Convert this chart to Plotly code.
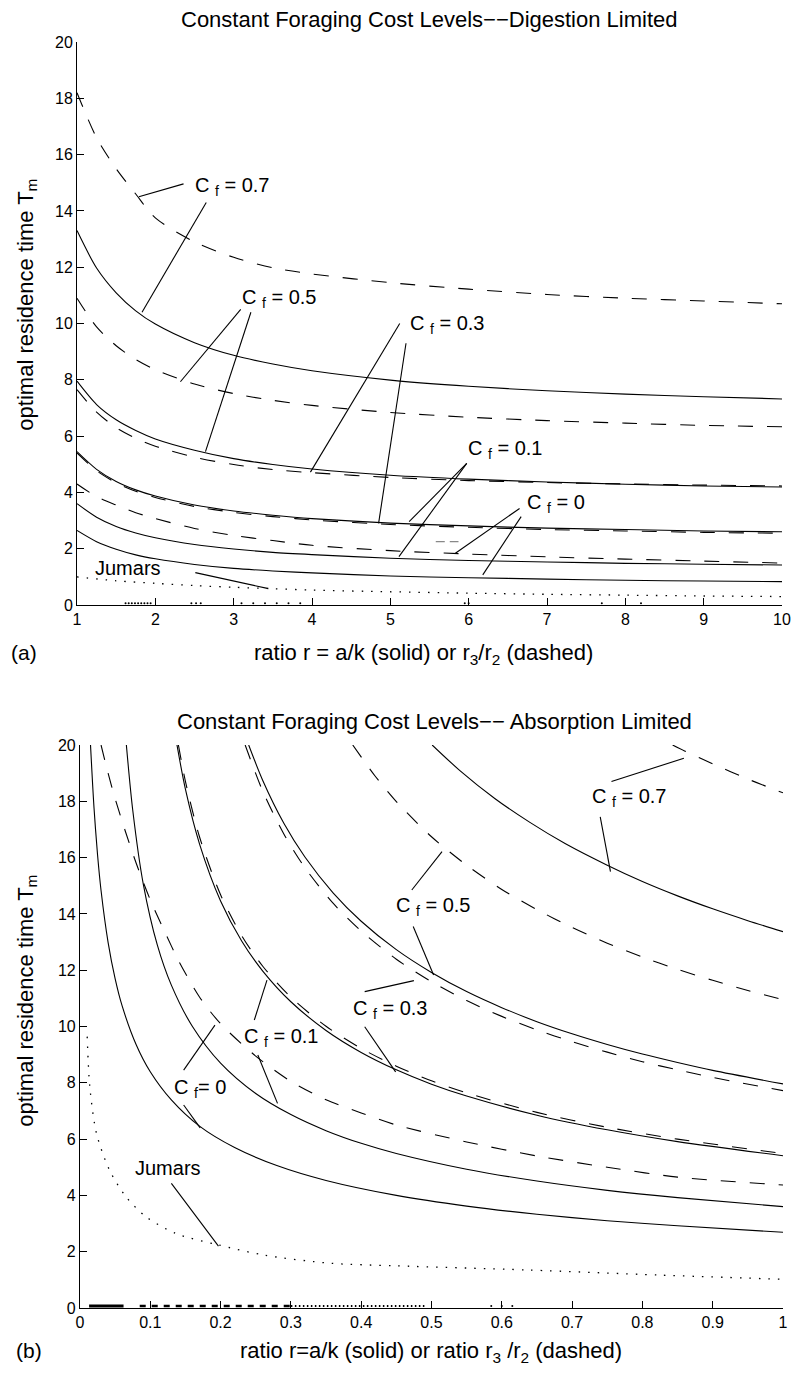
import plotly.graph_objects as go

FONT = "Liberation Sans, Arial, Helvetica, sans-serif"

# ---------------- Panel (a): Digestion limited ----------------
xa = [1, 1.25, 1.5, 1.75, 2, 2.5, 3, 3.5, 4, 5, 6, 7, 8, 9, 10]
a_solid_07 = [13.3, 11.97, 11.09, 10.45, 9.98, 9.32, 8.87, 8.56, 8.32, 7.99, 7.77, 7.61, 7.49, 7.40, 7.32]
a_solid_05 = [7.95, 7.12, 6.58, 6.2, 5.9, 5.5, 5.2, 4.99, 4.83, 4.61, 4.47, 4.37, 4.29, 4.23, 4.19]
a_solid_03 = [5.45, 4.82, 4.39, 4.09, 3.87, 3.55, 3.34, 3.19, 3.07, 2.91, 2.81, 2.73, 2.68, 2.63, 2.6]
a_solid_01 = [3.6, 3.12, 2.79, 2.56, 2.39, 2.15, 1.99, 1.87, 1.79, 1.66, 1.58, 1.53, 1.48, 1.45, 1.42]
a_solid_00 = [2.65, 2.25, 1.98, 1.78, 1.64, 1.44, 1.30, 1.21, 1.14, 1.03, 0.97, 0.92, 0.88, 0.85, 0.83]
a_dash_07 = [18.2, 16.6, 15.5, 14.6, 13.75, 12.9, 12.35, 11.98, 11.76, 11.45, 11.22, 11.03, 10.9, 10.8, 10.7]
a_dash_05 = [10.9, 9.88, 9.21, 8.72, 8.36, 7.85, 7.51, 7.27, 7.09, 6.84, 6.67, 6.55, 6.46, 6.38, 6.33]
a_dash_03 = [7.65, 6.85, 6.3, 5.92, 5.64, 5.25, 4.99, 4.81, 4.7, 4.53, 4.42, 4.35, 4.3, 4.26, 4.23]
a_dash_01 = [5.4, 4.77, 4.34, 4.04, 3.82, 3.5, 3.29, 3.14, 3.02, 2.86, 2.76, 2.68, 2.63, 2.58, 2.55]
a_dash_00 = [4.3, 3.85, 3.55, 3.28, 3.07, 2.72, 2.47, 2.29, 2.12, 1.93, 1.81, 1.71, 1.63, 1.56, 1.49]
xa_jumars = [1, 1.5, 2, 2.5, 3, 3.5, 4, 5, 6, 7, 8, 9, 10]
a_jumars = [1.0, 0.86, 0.77, 0.69, 0.63, 0.58, 0.53, 0.47, 0.42, 0.38, 0.35, 0.32, 0.3]
# stray marks lying on the x axis
a_axis_marks_x = [1.62, 1.66, 1.7, 1.74, 1.78, 1.82, 1.86, 1.9, 1.94, 2.46, 2.52, 2.58, 3.1, 3.25, 3.4, 3.55,
                  3.7, 3.85, 5.95, 6.0, 7.7, 8.2]

# ---------------- Panel (b): Absorption limited ----------------
xb_s00 = [0.015, 0.02, 0.025, 0.03, 0.04, 0.05, 0.06, 0.08, 0.1, 0.13, 0.17, 0.22, 0.28, 0.35, 0.45, 0.55, 0.65, 0.75, 0.85, 1.0]
b_solid_00 = [20, 17.76, 16.1, 14.83, 12.99, 11.7, 10.73, 9.35, 8.39, 7.39, 6.46, 5.7, 5.06, 4.53, 4.0, 3.62, 3.33, 3.1, 2.92, 2.69]
xb_s01 = [0.066, 0.075, 0.09, 0.11, 0.13, 0.16, 0.2, 0.25, 0.3, 0.35, 0.4, 0.45, 0.55, 0.65, 0.75, 0.85, 1.0]
b_solid_01 = [20, 17.7, 15.07, 12.9, 11.47, 10.0, 8.7, 7.62, 6.87, 6.3, 5.85, 5.49, 4.93, 4.51, 4.18, 3.92, 3.6]
xb_s03 = [0.138, 0.15, 0.17, 0.2, 0.23, 0.26, 0.3, 0.35, 0.4, 0.45, 0.5, 0.55, 0.65, 0.75, 0.85, 1.0]
b_solid_03 = [20, 18.43, 16.49, 14.46, 13.04, 11.97, 10.88, 9.86, 9.08, 8.46, 7.95, 7.53, 6.85, 6.33, 5.91, 5.41]
xb_s05 = [0.24, 0.26, 0.29, 0.32, 0.36, 0.4, 0.45, 0.5, 0.55, 0.6, 0.65, 0.7, 0.75, 0.8, 0.85, 0.9, 1.0]
b_solid_05 = [20, 18.74, 17.22, 16.02, 14.75, 13.74, 12.73, 11.92, 11.24, 10.67, 10.17, 9.74, 9.36, 9.02, 8.72, 8.44, 7.96]
xb_s07 = [0.501, 0.54, 0.59, 0.64, 0.69, 0.75, 0.8, 0.85, 0.9, 0.95, 1.0]
b_solid_07 = [20, 19.1, 18.1, 17.25, 16.5, 15.73, 15.15, 14.64, 14.18, 13.76, 13.37]
xb_d00 = [0.03, 0.04, 0.05, 0.065, 0.08, 0.1, 0.12, 0.14, 0.17, 0.2, 0.25, 0.3, 0.35, 0.4, 0.45, 0.55, 0.65, 0.75, 0.85, 1.0]
b_dash_00 = [20, 19.0, 18.1, 16.9, 15.8, 14.5, 13.4, 12.35, 11.05, 10.1, 8.95, 8.05, 7.4, 6.93, 6.5, 5.9, 5.4, 5.0, 4.65, 4.37]
xb_d01 = [0.14, 0.15, 0.17, 0.2, 0.23, 0.26, 0.3, 0.35, 0.4, 0.45, 0.5, 0.55, 0.65, 0.75, 0.85, 1.0]
b_dash_01 = [20, 18.71, 16.74, 14.68, 13.23, 12.14, 11.04, 10.01, 9.22, 8.59, 8.07, 7.64, 6.95, 6.42, 6.0, 5.49]
xb_d03 = [0.235, 0.26, 0.29, 0.32, 0.36, 0.4, 0.45, 0.5, 0.55, 0.6, 0.65, 0.7, 0.75, 0.8, 0.85, 0.9, 1.0]
b_dash_03 = [20, 18.36, 16.84, 15.64, 14.38, 13.39, 12.39, 11.59, 10.92, 10.36, 9.88, 9.46, 9.09, 8.75, 8.46, 8.19, 7.72]
xb_d05 = [0.388, 0.42, 0.45, 0.5, 0.55, 0.6, 0.65, 0.7, 0.75, 0.8, 0.85, 0.9, 0.95, 1.0]
b_dash_05 = [20, 18.89, 17.99, 16.74, 15.73, 14.87, 14.15, 13.52, 12.96, 12.47, 12.03, 11.64, 11.28, 10.95]
xb_d07 = [0.843, 0.86, 0.9, 0.95, 1.0]
b_dash_07 = [20, 19.79, 19.33, 18.79, 18.3]
xb_jumars = [0.0103, 0.014, 0.0235, 0.042, 0.0655, 0.094, 0.136, 0.197, 0.262, 0.356, 0.449, 0.637, 0.824, 1.0]
b_jumars = [9.64, 7.86, 6.2, 4.9, 3.95, 3.24, 2.65, 2.24, 1.88, 1.59, 1.5, 1.35, 1.17, 1.02]
b_axis_solid_x = [0.013, 0.062]
b_axis_dash_x = [0.085, 0.30]
b_axis_dot_x = [0.30, 0.49]
b_axis_pts_x = [0.585, 0.60, 0.615]

xb_ticks = [0, 0.1, 0.2, 0.3, 0.4, 0.5, 0.6, 0.7, 0.8, 0.9, 1]
xb_ticktext = ["0", "0.1", "0.2", "0.3", "0.4", "0.5", "0.6", "0.7", "0.8", "0.9", "1"]
xa_ticks = [1, 2, 3, 4, 5, 6, 7, 8, 9, 10]
y_ticks = [0, 2, 4, 6, 8, 10, 12, 14, 16, 18, 20]

# labels: (panel, text, x, y)
labels = [
    ("a", "C <sub>f</sub> = 0.7", 2.99, 14.85),
    ("a", "C <sub>f</sub> = 0.5", 3.58, 10.9),
    ("a", "C <sub>f</sub> = 0.3", 5.73, 9.95),
    ("a", "C <sub>f</sub> = 0.1", 6.47, 5.54),
    ("a", "C <sub>f</sub> = 0", 7.11, 3.59),
    ("a", "Jumars", 1.655, 1.31),
    ("b", "C <sub>f</sub> = 0.7", 0.781, 18.14),
    ("b", "C <sub>f</sub> = 0.5", 0.5035, 14.25),
    ("b", "C <sub>f</sub> = 0.3", 0.441, 10.62),
    ("b", "C <sub>f</sub> = 0.1", 0.2865, 9.61),
    ("b", "C <sub>f</sub>= 0", 0.171, 7.78),
    ("b", "Jumars", 0.125, 4.97),
]
# pointer lines: (panel, x0, y0, x1, y1)
pointers = [
    ("a", 1.79, 14.5, 2.36, 14.96), ("a", 2.65, 14.3, 1.83, 10.4),
    ("a", 3.09, 10.5, 2.32, 7.93), ("a", 3.22, 10.4, 2.64, 5.45),
    ("a", 5.12, 10.0, 3.98, 4.72), ("a", 5.2, 9.3, 4.85, 2.9),
    ("a", 5.975, 5.03, 5.24, 2.96), ("a", 5.975, 5.03, 5.11, 1.72),
    ("a", 6.65, 3.43, 5.83, 1.84), ("a", 6.67, 3.14, 6.18, 1.07),
    ("a", 2.51, 1.15, 3.43, 0.59),
    ("b", 0.756, 18.7, 0.859, 19.53), ("b", 0.74, 17.45, 0.7546, 15.5),
    ("b", 0.472, 14.85, 0.515, 16.21), ("b", 0.474, 13.55, 0.503, 11.83),
    ("b", 0.405, 11.24, 0.475, 11.63), ("b", 0.405, 9.99, 0.449, 8.39),
    ("b", 0.248, 10.23, 0.266, 11.65), ("b", 0.253, 8.99, 0.281, 7.27),
    ("b", 0.1475, 8.45, 0.192, 10.05), ("b", 0.1475, 7.21, 0.171, 6.4),
    ("b", 0.130, 4.43, 0.197, 2.2),
]

# ---------------- figure ----------------
W, H = 803, 1377
ML, MR, MT, MB = 77, 11, 42, 69
PW, PH = W - ML - MR, H - MT - MB


def px(xp):
    return (xp - ML) / PW


def py(yp):
    return (H - MB - yp) / PH


fig = go.Figure()
SOLID = dict(color="black", width=1.1, shape="spline", smoothing=0.8)
DASH = dict(color="black", width=1.1, dash="15px,14px", shape="spline", smoothing=0.8)
DOT = dict(color="black", width=1.3, dash="1.5px,8px", shape="spline", smoothing=0.8)

for ys in [a_solid_07, a_solid_05, a_solid_03, a_solid_01, a_solid_00]:
    fig.add_trace(go.Scatter(x=xa, y=ys, mode="lines", line=SOLID, xaxis="x", yaxis="y"))
for ys in [a_dash_07, a_dash_05, a_dash_03, a_dash_01, a_dash_00]:
    fig.add_trace(go.Scatter(x=xa, y=ys, mode="lines", line=DASH, xaxis="x", yaxis="y"))
fig.add_trace(go.Scatter(x=xa_jumars, y=a_jumars, mode="lines", line=DOT, xaxis="x", yaxis="y"))
fig.add_trace(go.Scatter(x=a_axis_marks_x, y=[0.06] * len(a_axis_marks_x), mode="markers",
                         marker=dict(color="black", size=2), xaxis="x", yaxis="y"))
# gray stray dash in panel (a)
fig.add_trace(go.Scatter(x=[5.58, 5.87], y=[2.25, 2.25], mode="lines",
                         line=dict(color="#888888", width=1.1, dash="9px,5px"), xaxis="x", yaxis="y"))

for xs, ys in [(xb_s00, b_solid_00), (xb_s01, b_solid_01), (xb_s03, b_solid_03),
               (xb_s05, b_solid_05), (xb_s07, b_solid_07)]:
    fig.add_trace(go.Scatter(x=xs, y=ys, mode="lines", line=SOLID, xaxis="x2", yaxis="y2"))
for xs, ys in [(xb_d00, b_dash_00), (xb_d01, b_dash_01), (xb_d03, b_dash_03),
               (xb_d05, b_dash_05), (xb_d07, b_dash_07)]:
    fig.add_trace(go.Scatter(x=xs, y=ys, mode="lines", line=DASH, xaxis="x2", yaxis="y2"))
fig.add_trace(go.Scatter(x=xb_jumars, y=b_jumars, mode="lines", line=DOT, xaxis="x2", yaxis="y2"))
fig.add_trace(go.Scatter(x=b_axis_solid_x, y=[0.07, 0.07], mode="lines",
                         line=dict(color="black", width=3), xaxis="x2", yaxis="y2"))
fig.add_trace(go.Scatter(x=b_axis_dash_x, y=[0.07, 0.07], mode="lines",
                         line=dict(color="black", width=2.5, dash="6px,6px"), xaxis="x2", yaxis="y2"))
fig.add_trace(go.Scatter(x=b_axis_dot_x, y=[0.07, 0.07], mode="lines",
                         line=dict(color="black", width=2, dash="1.5px,2.5px"), xaxis="x2", yaxis="y2"))
fig.add_trace(go.Scatter(x=b_axis_pts_x, y=[0.07] * len(b_axis_pts_x), mode="markers",
                         marker=dict(color="black", size=2), xaxis="x2", yaxis="y2"))

shapes = []
for p, x0, y0, x1, y1 in pointers:
    xr, yr = ("x", "y") if p == "a" else ("x2", "y2")
    shapes.append(dict(type="line", xref=xr, yref=yr, x0=x0, y0=y0, x1=x1, y1=y1,
                       line=dict(color="black", width=1.1)))

annotations = []
for p, t, x, y in labels:
    xr, yr = ("x", "y") if p == "a" else ("x2", "y2")
    annotations.append(dict(text=t, x=x, y=y, xref=xr, yref=yr, showarrow=False,
                            xanchor="center", yanchor="middle",
                            font=dict(family=FONT, size=20, color="black")))

def paper_text(t, xp, yp, size, angle=0, xanchor="center"):
    annotations.append(dict(text=t, x=px(xp), y=py(yp), xref="paper", yref="paper",
                            showarrow=False, xanchor=xanchor, yanchor="middle", textangle=angle,
                            font=dict(family=FONT, size=size, color="black")))

paper_text("Constant Foraging Cost Levels\u2212\u2212Digestion Limited", 434, 19, 22)
paper_text("Constant Foraging Cost Levels\u2212\u2212 Absorption Limited", 439, 721, 22)
paper_text("ratio r = a/k (solid) or r<sub>3</sub>/r<sub>2</sub> (dashed)", 428, 654, 22)
paper_text("ratio r=a/k (solid) or ratio r<sub>3</sub> /r<sub>2</sub> (dashed)", 436, 1352, 22)
paper_text("(a)", 23, 652, 21)
paper_text("(b)", 28, 1350, 21)
paper_text("optimal residence time T<sub>m</sub>", 26, 305, 22, angle=-90)
paper_text("optimal residence time T<sub>m</sub>", 26, 1001, 22, angle=-90)

axis_common = dict(showline=True, linecolor="black", linewidth=1, mirror=False,
                   ticks="inside", ticklen=7, tickwidth=1, tickcolor="black",
                   showgrid=False, zeroline=False,
                   tickfont=dict(family=FONT, size=16, color="black"))

fig.update_layout(
    width=W, height=H,
    margin=dict(l=ML, r=MR, t=MT, b=MB),
    paper_bgcolor="white", plot_bgcolor="white",
    showlegend=False,
    xaxis=dict(domain=[0, (791 - ML) / PW], range=[1, 10], tickvals=xa_ticks,
               anchor="y", **axis_common),
    yaxis=dict(domain=[py(605), 1], range=[0, 20], tickvals=y_ticks,
               anchor="x", **axis_common),
    xaxis2=dict(domain=[(80 - ML) / PW, 1], range=[0, 1], tickvals=xb_ticks, ticktext=xb_ticktext,
                anchor="y2", **axis_common),
    yaxis2=dict(domain=[0, py(745)], range=[0, 20], tickvals=y_ticks,
                anchor="x2", **axis_common),
    shapes=shapes,
    annotations=annotations,
)

fig.write_html("out.html")
